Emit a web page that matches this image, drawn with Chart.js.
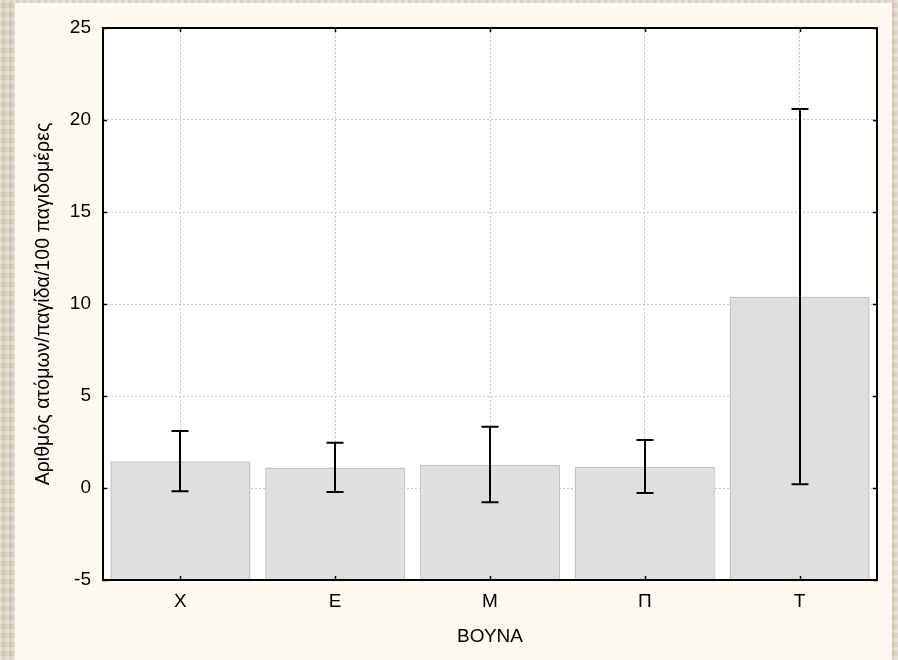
<!DOCTYPE html>
<html>
<head>
<meta charset="utf-8">
<script src="https://cdn.jsdelivr.net/npm/chart.js@4"></script>
<style>
  html, body { margin: 0; padding: 0; }
  body {
    width: 898px; height: 660px; overflow: hidden; position: relative;
    background-color: #dcd4c2;
    background-image:
      repeating-linear-gradient(90deg, rgba(255,255,255,0.22) 0px, rgba(255,255,255,0.22) 2px, rgba(0,0,0,0.035) 2px, rgba(0,0,0,0.035) 5px, rgba(255,255,255,0.1) 5px, rgba(255,255,255,0.1) 7px),
      repeating-linear-gradient(0deg, rgba(255,255,255,0.15) 0px, rgba(255,255,255,0.15) 4px, rgba(120,100,70,0.07) 4px, rgba(120,100,70,0.07) 9px);
  }
  #panel {
    position: absolute; left: 15px; top: 3px; width: 877px; height: 657px;
    background: #fefaf0;
  }
  canvas { display: block; }
</style>
</head>
<body>
<div id="panel"><canvas id="c" width="877" height="657"></canvas></div>
<script>
const categories = ['Χ', 'Ε', 'Μ', 'Π', 'Τ'];
const means = [1.45, 1.12, 1.27, 1.16, 10.4];
const upperErr = [3.1, 2.46, 3.33, 2.61, 20.6];
const lowerErr = [-0.18, -0.22, -0.78, -0.27, 0.2];
const yMin = -5, yMax = 25, yStep = 5;
const xTitle = 'ΒΟΥΝΑ';
const yTitle = 'Αριθμός ατόμων/παγίδα/100 παγιδομέρες';

const FONT = '"Liberation Sans", Arial, sans-serif';

const framePlugin = {
  id: 'frame',
  afterDatasetsDraw(chart) {
    const { ctx, chartArea: a, scales: { x, y } } = chart;
    ctx.save();
    // error bars
    ctx.strokeStyle = '#000';
    ctx.lineWidth = 2;
    const cap = 8.5;
    for (let i = 0; i < categories.length; i++) {
      const px = Math.round(x.getPixelForValue(i));
      const top = y.getPixelForValue(upperErr[i]);
      const bot = y.getPixelForValue(lowerErr[i]);
      ctx.beginPath();
      ctx.moveTo(px, top); ctx.lineTo(px, bot);
      ctx.moveTo(px - cap, top); ctx.lineTo(px + cap, top);
      ctx.moveTo(px - cap, bot); ctx.lineTo(px + cap, bot);
      ctx.stroke();
    }
    // inner tick marks
    ctx.lineWidth = 1.5;
    const tl = 4;
    ctx.beginPath();
    y.ticks.forEach(t => {
      const py = Math.round(y.getPixelForValue(t.value)) + 0.5;
      ctx.moveTo(a.left, py); ctx.lineTo(a.left + tl, py);
      ctx.moveTo(a.right, py); ctx.lineTo(a.right - tl, py);
    });
    for (let i = 0; i < categories.length; i++) {
      const px = Math.round(x.getPixelForValue(i)) + 0.5;
      ctx.moveTo(px, a.bottom); ctx.lineTo(px, a.bottom - tl);
      ctx.moveTo(px, a.top); ctx.lineTo(px, a.top + tl);
    }
    ctx.stroke();
    // frame
    ctx.lineWidth = 2;
    ctx.strokeRect(a.left, a.top, a.right - a.left, a.bottom - a.top);
    ctx.restore();
  },
  beforeDraw(chart) {
    const { ctx, chartArea: a } = chart;
    ctx.save();
    ctx.fillStyle = '#ffffff';
    ctx.fillRect(a.left, a.top, a.right - a.left, a.bottom - a.top);
    ctx.restore();
  }
};

new Chart(document.getElementById('c'), {
  type: 'bar',
  data: {
    labels: categories,
    datasets: [{
      data: means,
      base: yMin,
      backgroundColor: '#dfdfdf',
      borderColor: '#c2c2c2',
      borderWidth: 1.5,
      barPercentage: 0.905,
      categoryPercentage: 1.0
    }]
  },
  options: {
    responsive: false,
    animation: false,
    events: [],
    layout: { padding: { top: 25, right: 15, left: 0, bottom: 0 } },
    plugins: { legend: { display: false }, tooltip: { enabled: false } },
    scales: {
      x: {
        offset: true,
        grid: { offset: false, color: '#c4c4c4', lineWidth: 1, drawTicks: false },
        border: { display: false, dash: [2, 2] },
        ticks: { color: '#000', font: { family: FONT, size: 19 }, padding: 10, maxRotation: 0 },
        title: { display: true, text: xTitle, color: '#000', font: { family: FONT, size: 19 }, padding: { top: 0, bottom: 12 } },
        afterFit(s) { s.height = 80; }
      },
      y: {
        min: yMin, max: yMax,
        grid: {
          color: (c) => (c.tick && (c.tick.value === yMin || c.tick.value === yMax)) ? 'rgba(0,0,0,0)' : '#c4c4c4',
          lineWidth: 1, drawTicks: false
        },
        border: { display: false, dash: [2, 2] },
        ticks: { stepSize: yStep, color: '#000', font: { family: FONT, size: 19 }, padding: 12 },
        title: { display: true, text: yTitle, color: '#000', font: { family: FONT, size: 19.6 }, padding: { top: 17, bottom: 0 } },
        afterFit(s) { s.width = 88; }
      }
    }
  },
  plugins: [framePlugin]
});
</script>
</body>
</html>
